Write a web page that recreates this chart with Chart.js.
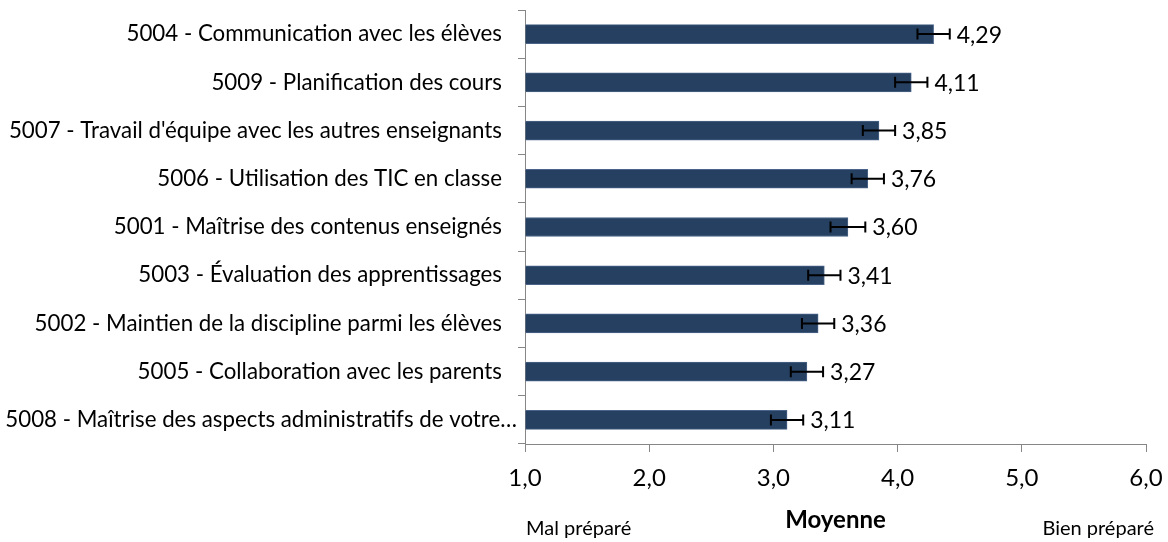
<!DOCTYPE html>
<html><head><meta charset="utf-8">
<script src="https://cdn.jsdelivr.net/npm/chart.js@4"></script>
<style>html,body{margin:0;padding:0;background:#fff}#wrap{width:1168px;height:542px;position:relative}</style>
</head><body><div id="wrap"><canvas id="c" width="1168" height="542"></canvas></div>
<script>
const categories = [
  "5004 - Communication avec les élèves",
  "5009 - Planification des cours",
  "5007 - Travail d'équipe avec les autres enseignants",
  "5006 - Utilisation des TIC en classe",
  "5001 - Maîtrise des contenus enseignés",
  "5003 - Évaluation des apprentissages",
  "5002 - Maintien de la discipline parmi les élèves",
  "5005 - Collaboration avec les parents",
  "5008 - Maîtrise des aspects administratifs de votre…"
];
const means = [4.29, 4.11, 3.85, 3.76, 3.60, 3.41, 3.36, 3.27, 3.11];
const errors = [0.13, 0.13, 0.13, 0.13, 0.14, 0.13, 0.13, 0.13, 0.13];
const xTicks = [1, 2, 3, 4, 5, 6];
const axisTitle = "Moyenne";
const leftNote = "Mal préparé";
const rightNote = "Bien préparé";

const FONT = "Lato, 'Open Sans', sans-serif";
const fmt = (v, d) => v.toFixed(d).replace('.', ',');

// the truncated last category label overhangs toward the axis, as in the original
const labelShift = {
  id: 'labelShift',
  afterLayout(chart) {
    const items = chart.scales.y.getLabelItems();
    const last = items[items.length - 1];
    if (last && !last._shifted) { last.options.translation[0] += 15; last._shifted = true; }
  }
};

const errorBars = {
  id: 'errorBars',
  afterDatasetsDraw(chart) {
    const ctx = chart.ctx, xs = chart.scales.x;
    const meta = chart.getDatasetMeta(0);
    ctx.save();
    ctx.strokeStyle = '#000';
    ctx.lineWidth = 2;
    meta.data.forEach((bar, i) => {
      const y = bar.y;
      const x1 = xs.getPixelForValue(means[i] - errors[i]);
      const x2 = xs.getPixelForValue(means[i] + errors[i]);
      ctx.beginPath();
      ctx.moveTo(x1, y); ctx.lineTo(x2, y);
      ctx.moveTo(x1, y - 5.5); ctx.lineTo(x1, y + 5.5);
      ctx.moveTo(x2, y - 5.5); ctx.lineTo(x2, y + 5.5);
      ctx.stroke();
      ctx.fillStyle = '#000';
      ctx.font = "23px " + FONT;
      ctx.textAlign = 'left';
      ctx.textBaseline = 'middle';
      ctx.fillText(fmt(means[i], 2), x2 + 7, y + 1);
    });
    ctx.restore();
  }
};

const notes = {
  id: 'notes',
  afterDraw(chart) {
    const ctx = chart.ctx, area = chart.chartArea;
    ctx.save();
    ctx.fillStyle = '#000';
    ctx.font = "20px " + FONT;
    ctx.textBaseline = 'middle';
    ctx.textAlign = 'left';
    ctx.fillText(leftNote, area.left + 1, 529);
    ctx.textAlign = 'right';
    ctx.fillText(rightNote, 1154, 529);
    ctx.restore();
  }
};

new Chart(document.getElementById('c'), {
  type: 'bar',
  data: {
    labels: categories,
    datasets: [{
      data: means,
      base: 1,
      backgroundColor: '#254061',
      borderColor: '#4a6489',
      borderWidth: 1,
      barThickness: 19
    }]
  },
  options: {
    indexAxis: 'y',
    responsive: false,
    animation: false,
    layout: { padding: { top: 10, right: 22, left: 0, bottom: 0 } },
    plugins: { legend: { display: false }, tooltip: { enabled: false } },
    scales: {
      x: {
        min: 1, max: 6,
        afterBuildTicks: s => { s.ticks = xTicks.map(v => ({ value: v })); },
        ticks: { callback: v => fmt(v, 1), font: { family: FONT, size: 24 }, color: '#000', padding: 12, maxRotation: 0 },
        grid: { drawOnChartArea: false, tickLength: 8, color: '#868686' },
        border: { color: '#868686' },
        title: { display: true, text: axisTitle, font: { family: FONT, size: 24, weight: 'bold' }, color: '#000', padding: { top: 0, bottom: 7 } },
        afterFit: s => { s.height = 98; s.paddingLeft = 0; s.paddingRight = 0; }
      },
      y: {
        ticks: { font: { family: FONT, size: 22.3 }, color: '#000', padding: 16 },
        grid: { offset: true, drawOnChartArea: false, tickLength: 7, color: '#868686' },
        border: { color: '#868686' },
        afterFit: s => { s.width = 525; s.paddingTop = 0; s.paddingBottom = 0; }
      }
    }
  },
  plugins: [labelShift, errorBars, notes]
});
</script>
</body></html>
